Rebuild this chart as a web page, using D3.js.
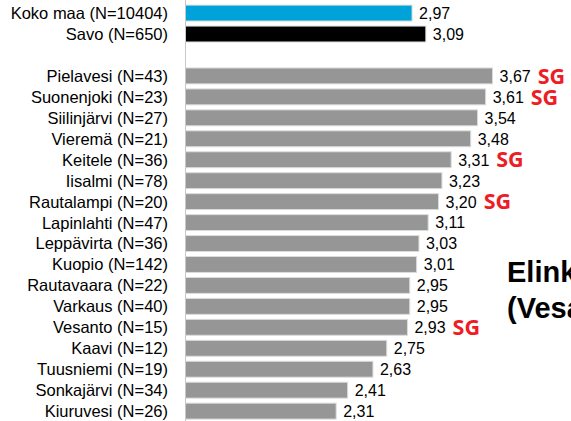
<!DOCTYPE html>
<html>
<head>
<meta charset="utf-8">
<script src="https://cdn.jsdelivr.net/npm/d3@7"></script>
<style>
  html, body { margin: 0; padding: 0; background: #fff; overflow: hidden; }
  svg { display: block; }
</style>
</head>
<body>
<div id="chart"></div>
<script>
// ── Data ─────────────────────────────────────────────────────
const labels = [
  'Koko maa (N=10404)', 'Savo (N=650)', '',
  'Pielavesi (N=43)', 'Suonenjoki (N=23)', 'Siilinjärvi (N=27)', 'Vieremä (N=21)',
  'Keitele (N=36)', 'Iisalmi (N=78)', 'Rautalampi (N=20)', 'Lapinlahti (N=47)',
  'Leppävirta (N=36)', 'Kuopio (N=142)', 'Rautavaara (N=22)', 'Varkaus (N=40)',
  'Vesanto (N=15)', 'Kaavi (N=12)', 'Tuusniemi (N=19)', 'Sonkajärvi (N=34)',
  'Kiuruvesi (N=26)'
];
const values = [
  2.97, 3.09, null,
  3.67, 3.61, 3.54, 3.48, 3.31, 3.23, 3.20, 3.11,
  3.03, 3.01, 2.95, 2.95, 2.93, 2.75, 2.63, 2.41, 2.31
];
// statistically significant marks
const sgFlags = [
  false, false, false,
  true, true, false, false, true, false, true, false,
  false, false, false, false, true, false, false, false, false
];
const titleLines = ['Elinkeino', '(Vesanto)'];

const COLORS = { total: '#00a3d9', region: '#000000', muni: '#969696' };

// ── Layout ───────────────────────────────────────────────────
const width = 571, height = 421;
const axisX = 185.5;

const svg = d3.select('#chart').append('svg')
  .attr('width', width).attr('height', height);

const rows = labels.map((l, i) => ({ i, label: l, value: values[i], sg: sgFlags[i] }));

const y = d3.scaleBand()
  .domain(rows.map(d => d.i))
  .range([2.6, 421.6])
  .paddingInner(0.24)
  .paddingOuter(0.12);

const x = d3.scaleLinear().domain([1, 5]).range([axisX, axisX + 4 * 115]);

const font = 'Liberation Sans, Arial, sans-serif';

// Bars
const barRows = rows.filter(d => d.value != null);
svg.append('g').selectAll('rect')
  .data(barRows)
  .join('rect')
  .attr('x', x(1))
  .attr('y', d => y(d.i))
  .attr('width', d => x(d.value) - x(1))
  .attr('height', y.bandwidth())
  .attr('fill', d => d.i === 0 ? COLORS.total : d.i === 1 ? COLORS.region : COLORS.muni)
  .attr('stroke', '#dcdcdc')
  .attr('stroke-width', 1);

// Axis line
svg.append('line')
  .attr('x1', axisX).attr('x2', axisX)
  .attr('y1', 0).attr('y2', height)
  .attr('stroke', '#c8c8c8').attr('stroke-width', 1);

// Category labels
svg.append('g').selectAll('text')
  .data(barRows)
  .join('text')
  .attr('x', 168)
  .attr('y', d => y(d.i) + y.bandwidth() / 2)
  .attr('dy', '0.36em')
  .attr('text-anchor', 'end')
  .attr('font-family', font)
  .attr('font-size', 16.5)
  .attr('fill', '#000')
  .text(d => d.label);

// Value labels
const fmt = v => v.toFixed(2).replace('.', ',');
const valText = svg.append('g').selectAll('text')
  .data(barRows)
  .join('text')
  .attr('x', d => x(d.value) + 7)
  .attr('y', d => y(d.i) + y.bandwidth() / 2)
  .attr('dy', '0.37em')
  .attr('font-family', font)
  .attr('font-size', 16)
  .attr('fill', '#000')
  .text(d => fmt(d.value));

// SG marks
valText.filter(d => d.sg).each(function(d) {
  const w = this.getComputedTextLength();
  svg.append('text')
    .attr('x', x(d.value) + 7 + w + 7)
    .attr('y', y(d.i) + y.bandwidth() / 2)
    .attr('dy', '0.36em')
    .attr('font-family', 'Open Sans, sans-serif')
    .attr('font-weight', 700)
    .attr('font-size', 21.5)
    .attr('fill', '#ee1c25')
    .text('SG');
});

// Title (cut off at the right edge, as in the source slide)
svg.append('g').selectAll('text')
  .data(titleLines)
  .join('text')
  .attr('x', 507)
  .attr('y', (d, i) => 282 + i * 36)
  .attr('font-family', font)
  .attr('font-weight', 700)
  .attr('font-size', 29)
  .attr('fill', '#000')
  .text(d => d);
</script>
</body>
</html>
